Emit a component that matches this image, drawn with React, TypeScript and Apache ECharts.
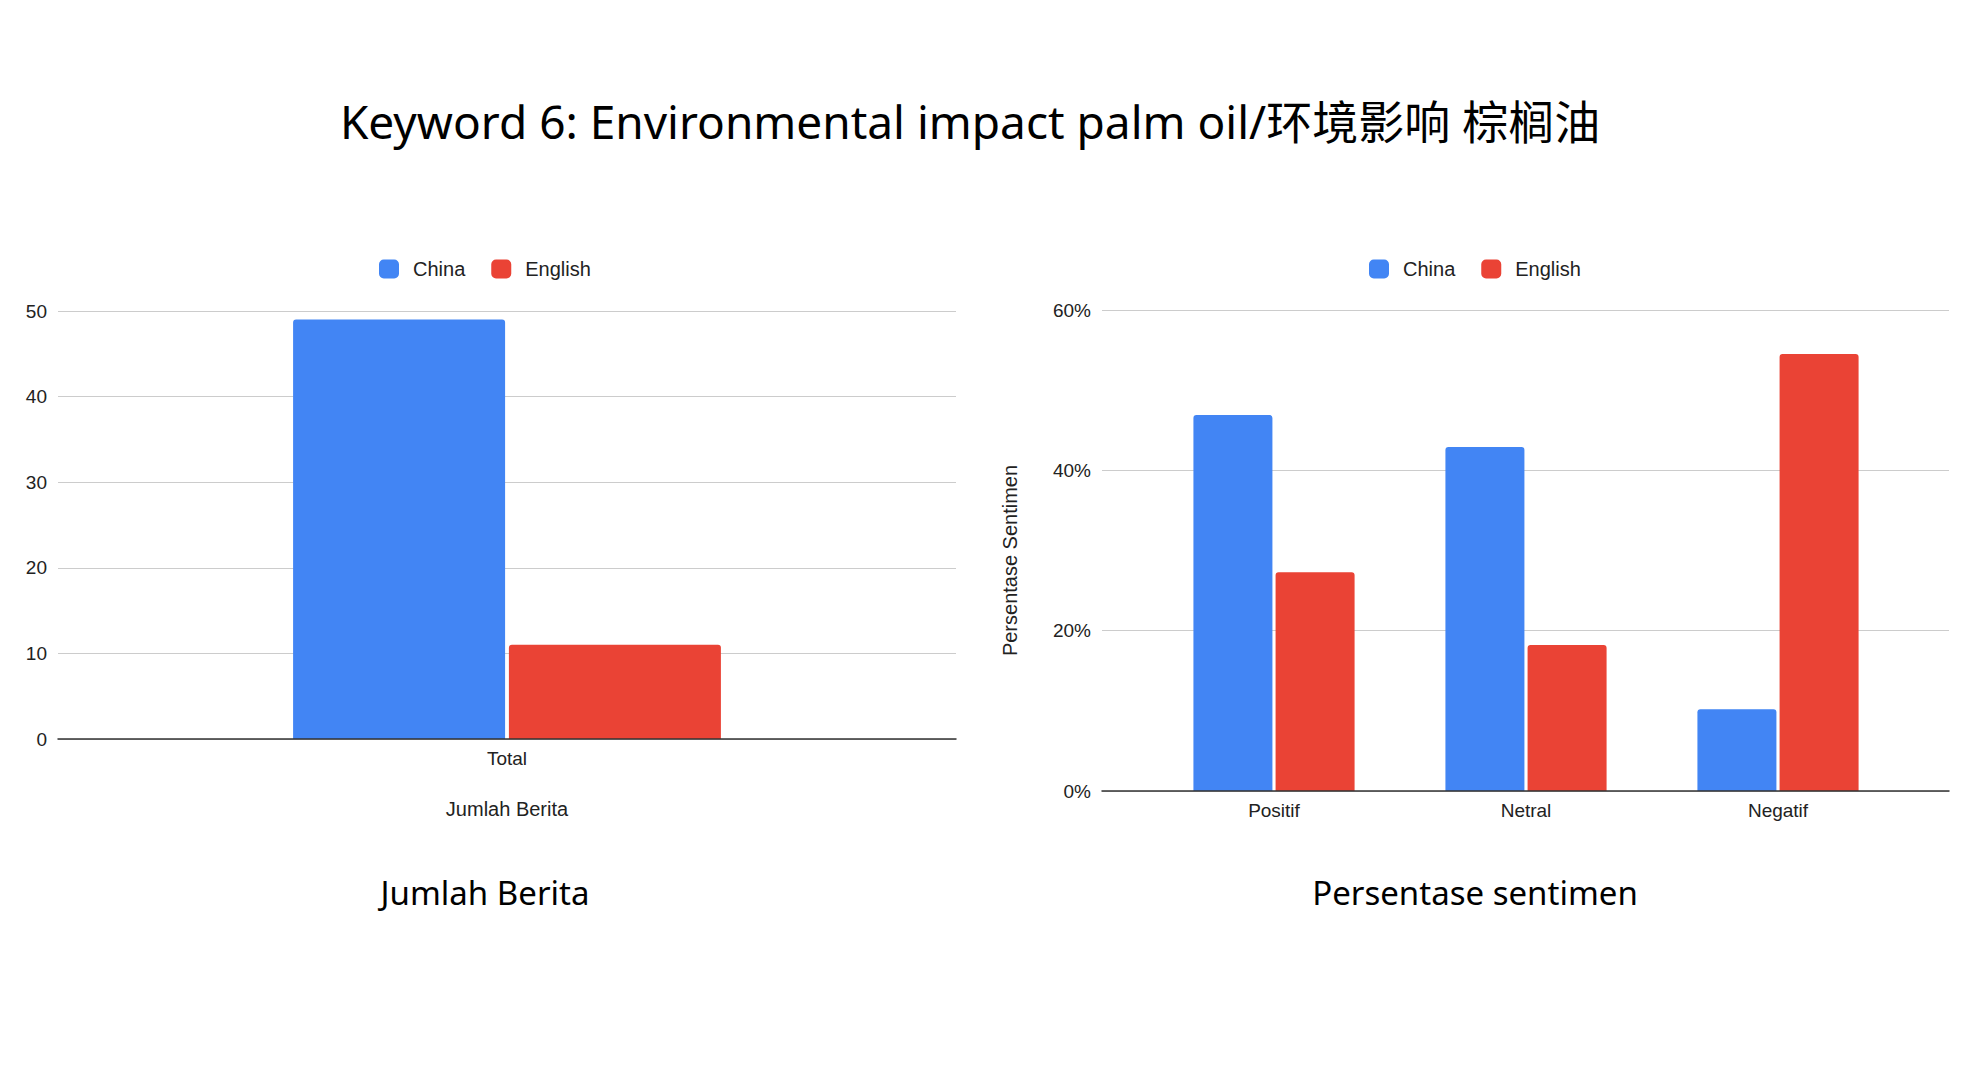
import React, { useEffect, useRef } from "react";
import * as echarts from "echarts";

const titleText = "Keyword 6: Environmental impact palm oil/环境影响 棕榈油";
const seriesNames = ["China", "English"];
const colors = ["#4285F4", "#EA4335"];

const countCategories = ["Total"];
const countChina = [49];
const countEnglish = [11];
const countAxisName = "Jumlah Berita";
const countSubtitle = "Jumlah Berita";

const sentimentCategories = ["Positif", "Netral", "Negatif"];
const sentimentChina = [46.9, 42.9, 10.2];
const sentimentEnglish = [27.3, 18.2, 54.5];
const sentimentAxisName = "Persentase Sentimen";
const sentimentSubtitle = "Persentase sentimen";

const LABEL_FONT = "'Liberation Sans', Arial, sans-serif";
const DISPLAY_FONT = "'Noto Sans', 'Noto Sans CJK SC', sans-serif";

export default function App() {
  const ref = useRef<HTMLDivElement>(null);

  useEffect(() => {
    document.body.style.margin = "0";
    if (!ref.current) return;
    const chart = echarts.init(ref.current, undefined, { renderer: "svg" });

    const labelStyle = { fontSize: 19, color: "#222", fontFamily: LABEL_FONT };
    const legendBase = {
      data: seriesNames,
      icon: "roundRect",
      itemWidth: 20,
      itemHeight: 19,
      itemGap: 26,
      top: 254,
      textStyle: { fontSize: 20, color: "#222", fontFamily: LABEL_FONT, padding: [0, 0, 0, 9] },
    };

    const option: any = {
      animation: false,
      backgroundColor: "#ffffff",
      color: colors,
      legend: [
        { ...legendBase, left: 374 },
        { ...legendBase, left: 1364 },
      ],
      grid: [
        { left: 58, right: 1980 - 956, top: 311, bottom: 1080 - 739 },
        { left: 1102, right: 1980 - 1949, top: 310, bottom: 1080 - 791 },
        { left: 1148, right: 1980 - 1904, top: 310, bottom: 1080 - 791 },
      ],
      xAxis: [
        {
          gridIndex: 0,
          type: "category",
          data: countCategories,
          z: 10,
          axisLine: { lineStyle: { color: "#333", width: 1.5 } },
          axisTick: { show: false },
          axisLabel: { ...labelStyle, margin: 10 },
          name: countAxisName,
          nameLocation: "middle",
          nameGap: 60,
          nameTextStyle: { fontSize: 20, color: "#222", fontFamily: LABEL_FONT },
        },
        {
          gridIndex: 1,
          type: "category",
          data: [""],
          z: 10,
          axisLine: { lineStyle: { color: "#333", width: 1.5 } },
          axisTick: { show: false },
          axisLabel: { show: false },
        },
        {
          gridIndex: 2,
          type: "category",
          data: sentimentCategories,
          axisLine: { show: false },
          axisTick: { show: false },
          axisLabel: { ...labelStyle, margin: 10 },
        },
      ],
      yAxis: [
        {
          gridIndex: 0,
          type: "value",
          min: 0,
          max: 50,
          interval: 10,
          axisLine: { show: false },
          axisTick: { show: false },
          axisLabel: { ...labelStyle, margin: 11 },
          splitLine: { lineStyle: { color: "#cccccc", width: 1 } },
        },
        {
          gridIndex: 1,
          type: "value",
          min: 0,
          max: 60,
          interval: 20,
          axisLine: { show: false },
          axisTick: { show: false },
          axisLabel: { ...labelStyle, margin: 11, formatter: "{value}%" },
          splitLine: { lineStyle: { color: "#cccccc", width: 1 } },
          name: sentimentAxisName,
          nameLocation: "middle",
          nameRotate: 90,
          nameGap: 82,
          nameTextStyle: { fontSize: 20, color: "#222", fontFamily: LABEL_FONT, padding: [0, 20, 0, 0] },
        },
        {
          gridIndex: 2,
          type: "value",
          min: 0,
          max: 60,
          interval: 20,
          show: false,
          splitLine: { show: false },
        },
      ],
      series: [
        {
          name: seriesNames[0],
          type: "bar",
          xAxisIndex: 0,
          yAxisIndex: 0,
          data: countChina,
          barWidth: 212,
          barGap: "1.8%",
          itemStyle: { color: colors[0], borderRadius: [3, 3, 0, 0] },
        },
        {
          name: seriesNames[1],
          type: "bar",
          xAxisIndex: 0,
          yAxisIndex: 0,
          data: countEnglish,
          barWidth: 212,
          barGap: "1.8%",
          itemStyle: { color: colors[1], borderRadius: [3, 3, 0, 0] },
        },
        {
          name: seriesNames[0],
          type: "bar",
          xAxisIndex: 2,
          yAxisIndex: 2,
          data: sentimentChina,
          barWidth: 79,
          barGap: "4%",
          itemStyle: { color: colors[0], borderRadius: [3, 3, 0, 0] },
        },
        {
          name: seriesNames[1],
          type: "bar",
          xAxisIndex: 2,
          yAxisIndex: 2,
          data: sentimentEnglish,
          barWidth: 79,
          barGap: "4%",
          itemStyle: { color: colors[1], borderRadius: [3, 3, 0, 0] },
        },
      ],
      graphic: [
        {
          type: "text",
          x: 970,
          y: 121,
          style: {
            text: titleText,
            fontSize: 46,
            fontFamily: DISPLAY_FONT,
            fill: "#000",
            textAlign: "center",
            textVerticalAlign: "middle",
          },
        },
        {
          type: "text",
          x: 485,
          y: 892,
          style: {
            text: countSubtitle,
            fontSize: 33,
            fontFamily: DISPLAY_FONT,
            fill: "#000",
            textAlign: "center",
            textVerticalAlign: "middle",
          },
        },
        {
          type: "text",
          x: 1475,
          y: 892,
          style: {
            text: sentimentSubtitle,
            fontSize: 33,
            fontFamily: DISPLAY_FONT,
            fill: "#000",
            textAlign: "center",
            textVerticalAlign: "middle",
          },
        },
      ],
    };

    chart.setOption(option);
    return () => chart.dispose();
  }, []);

  return <div ref={ref} style={{ width: 1980, height: 1080 }} />;
}
